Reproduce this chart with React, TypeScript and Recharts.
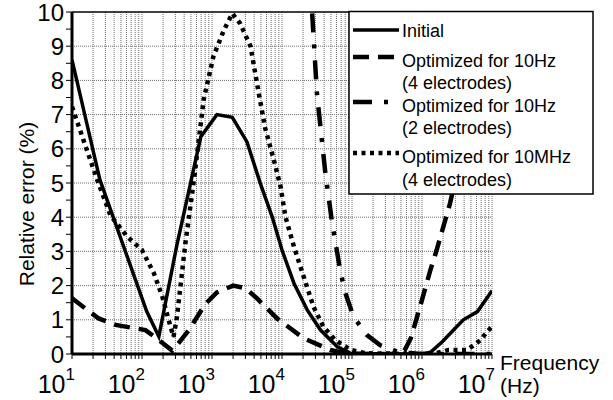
import React from 'react';
import { LineChart, Line, XAxis, YAxis, CartesianGrid, ReferenceLine } from 'recharts';

// frequency (Hz) / relative error (%)
const initialHz = [10, 25, 117, 174, 316, 692, 1175, 1950, 3160, 4900, 7240, 10000, 14800, 22900, 35500, 61700, 95500, 316000, 1000000, 1320000, 1950000, 2820000, 3900000, 6200000, 10000000];
const initialErr = [8.6, 5.1, 1.24, 0.51, 3.2, 6.35, 7.0, 6.92, 6.2, 4.99, 4.01, 3.04, 2.07, 1.29, 0.7, 0.21, 0.02, 0, 0, 0.05, 0.36, 0.7, 1.0, 1.24, 1.85];

const opt4Hz = [10, 24, 42, 112, 162, 270, 331, 468, 794, 1175, 2000, 3020, 4370, 8500, 20400, 49000, 79400, 158000, 398000, 562000, 692000, 1000000, 1320000, 1620000, 2510000, 3980000, 10000000];
const opt4Err = [1.63, 1.04, 0.85, 0.7, 0.46, 0.1, 0.31, 0.7, 1.45, 1.8, 2.0, 1.92, 1.63, 1.04, 0.46, 0.12, 0.02, 0, 0, 0.1, 0.46, 1.58, 2.46, 3.04, 4.4, 6.2, 10.5];

const opt2Hz = [22400, 26900, 31600, 41700, 51300, 67600, 79400, 105000, 162000, 251000, 468000, 1000000, 10000000];
const opt2Err = [12.7, 10.0, 7.6, 5.28, 3.92, 2.46, 1.82, 1.09, 0.56, 0.26, 0.05, 0, 0];

const optMHzHz = [10, 22.9, 35.5, 61.7, 100, 148, 195, 240, 282, 316, 372, 417, 513, 575, 759, 1047, 1479, 1950, 2512, 3548, 4677, 5754, 7586, 9550, 11200, 14800, 20400, 28200, 38900, 57500, 95500, 158000, 1000000, 1580000, 2400000, 4370000, 5500000, 6900000, 8500000, 10000000];
const optMHzErr = [7.23, 5.09, 4.05, 3.43, 3.04, 2.36, 1.68, 1.0, 0.5, 1.09, 2.36, 3.24, 4.6, 5.38, 7.43, 8.7, 9.47, 9.96, 9.67, 9.0, 7.6, 6.6, 5.7, 4.89, 4.01, 3.14, 2.26, 1.38, 0.8, 0.41, 0.12, 0.02, 0, 0.02, 0.12, 0.12, 0.26, 0.41, 0.65, 0.8];

const decades = [1, 2, 3, 4, 5, 6, 7];
const multiples = [1, 2, 3, 4, 5, 6, 7, 8, 9];
const yTicks = [0, 0.5, 1, 1.5, 2, 2.5, 3, 3.5, 4, 4.5, 5, 5.5, 6, 6.5, 7, 7.5, 8, 8.5, 9, 9.5, 10];
const yGrid = [1, 2, 3, 4, 5, 6, 7, 8, 9];

const FONT = '"Liberation Sans", Arial, sans-serif';
const GRID = '#6e6e6e';

const xTicks: number[] = [];
decades.forEach((d) => {
  if (d === 7) xTicks.push(7);
  else multiples.forEach((m) => xTicks.push(d + Math.log10(m)));
});

const toPoints = (hz: number[], err: number[]) => hz.map((f, i) => ({ x: Math.log10(f), y: err[i] }));

const series = [
  { name: 'Initial', sub: '', data: toPoints(initialHz, initialErr), width: 3.5, dash: undefined },
  { name: 'Optimized for 10Hz', sub: '(4 electrodes)', data: toPoints(opt4Hz, opt4Err), width: 4.5, dash: '16 9' },
  { name: 'Optimized for 10Hz', sub: '(2 electrodes)', data: toPoints(opt2Hz, opt2Err), width: 4.5, dash: '19 12 4 12' },
  { name: 'Optimized for 10MHz', sub: '(4 electrodes)', data: toPoints(optMHzHz, optMHzErr), width: 4.5, dash: '4 4.5' },
];

const XTick = (props: any) => {
  const { x, y, payload } = props;
  const v = payload.value;
  if (Math.abs(v - Math.round(v)) > 1e-6) return <g />;
  return (
    <text x={x + 3} y={y + 32} textAnchor="end" fontSize={25} fontFamily={FONT} fill="#000">
      10<tspan dy={-13} fontSize={17}>{Math.round(v)}</tspan>
    </text>
  );
};

const YTick = (props: any) => {
  const { x, y, payload } = props;
  const v = payload.value;
  if (!Number.isInteger(v)) return <g />;
  return (
    <text x={x} y={y + 8.5} textAnchor="end" fontSize={24} fontFamily={FONT} fill="#000">
      {v}
    </text>
  );
};

// legend rows: sample y, first baseline
const legendRows = [
  { sampleY: 30, base: 37 },
  { sampleY: 57, base: 66.5 },
  { sampleY: 102, base: 111.5 },
  { sampleY: 153, base: 163 },
];

export default function App() {
  return (
    <div style={{ position: 'absolute', left: 0, top: 0, width: 613, height: 400, background: '#fff' }}>
      <LineChart width={613} height={400} margin={{ top: 12, right: 121, bottom: 6, left: 12 }}>
        <CartesianGrid horizontal={false} stroke={GRID} strokeDasharray="1 1" />
        {yGrid.map((g) => (
          <ReferenceLine key={g} y={g} stroke={GRID} strokeDasharray="1 1" />
        ))}
        <ReferenceLine y={10} stroke="#000" strokeWidth={1.5} />
        <XAxis
          type="number"
          dataKey="x"
          domain={[1, 7]}
          ticks={xTicks}
          interval={0}
          allowDataOverflow
          height={40}
          tickSize={5}
          tickMargin={2}
          tick={XTick}
          axisLine={{ stroke: '#000', strokeWidth: 3 }}
          tickLine={{ stroke: '#000' }}
        />
        <YAxis
          type="number"
          dataKey="y"
          domain={[0, 10]}
          ticks={yTicks}
          interval={0}
          allowDataOverflow
          width={60}
          tickSize={6}
          tickMargin={2}
          tick={YTick}
          axisLine={{ stroke: '#000', strokeWidth: 3 }}
          tickLine={{ stroke: '#000' }}
        />
        {series.map((s, i) => (
          <Line
            key={i}
            data={s.data}
            dataKey="y"
            type="linear"
            stroke="#000"
            strokeWidth={s.width}
            strokeDasharray={s.dash}
            dot={false}
            isAnimationActive={false}
          />
        ))}
      </LineChart>
      <svg width={613} height={400} style={{ position: 'absolute', left: 0, top: 0, pointerEvents: 'none' }}>
        <text transform="translate(34,204) rotate(-90)" textAnchor="middle" fontSize={21} fontFamily={FONT} fill="#000">
          Relative error (%)
        </text>
        <text x={500} y={370} fontSize={21} fontFamily={FONT} fill="#000">Frequency</text>
        <text x={500} y={393} fontSize={21} fontFamily={FONT} fill="#000">(Hz)</text>
        <rect x={349} y={11.5} width={244} height={182.5} fill="#fff" stroke="#000" strokeWidth={1.5} />
        {series.map((s, i) => (
          <g key={i}>
            <line
              x1={353}
              x2={399}
              y1={legendRows[i].sampleY}
              y2={legendRows[i].sampleY}
              stroke="#000"
              strokeWidth={s.width}
              strokeDasharray={s.dash}
            />
            <text x={402} y={legendRows[i].base} fontSize={18} fontFamily={FONT} fill="#000">
              {s.name}
            </text>
            {s.sub && (
              <text x={402} y={legendRows[i].base + 22.5} fontSize={18} fontFamily={FONT} fill="#000">
                {s.sub}
              </text>
            )}
          </g>
        ))}
      </svg>
    </div>
  );
}
